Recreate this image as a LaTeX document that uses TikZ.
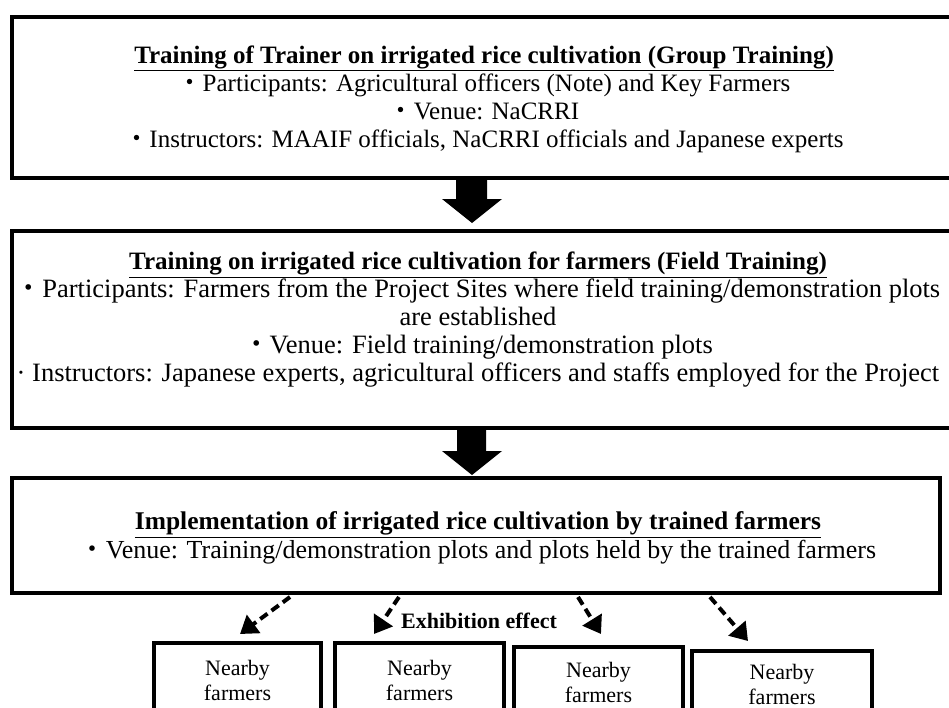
\documentclass[tikz,border=0pt]{standalone}
\usepackage{fontspec}
\setmainfont{Liberation Serif}
\newfontfamily\cjk{Noto Sans CJK JP}
\usetikzlibrary{arrows.meta}
\begin{document}
\begin{tikzpicture}[x=1pt,y=-1pt,
  bigbox/.style={draw=black,line width=4pt},
  smallbox/.style={draw=black,line width=4pt},
  bigtext/.style={align=center,inner sep=0pt,font=\fontsize{25}{28}\selectfont},
  bigtextb/.style={align=center,inner sep=0pt,font=\fontsize{26.5}{28}\selectfont},
  smalltext/.style={align=center,inner sep=0pt,font=\fontsize{22}{25}\selectfont},
  blockarrow/.style={fill=black},
  dasharrow/.style={line width=4pt,dash pattern=on 9pt off 5pt,-{Triangle[length=17pt,width=22pt]}}
]
\clip (0,0) rectangle (949,707);
\fill[white] (0,0) rectangle (949,707);
% boxes
\draw[bigbox] (12,17) rectangle (965,178);
\coordinate (b1s) at (472,178);
\draw[bigbox] (12,231) rectangle (965,428);
\coordinate (b2n) at (472,231);
\coordinate (b2s) at (472,428);
\draw[bigbox] (12,478) rectangle (940,593);
\coordinate (b3n) at (472,478);
% texts
\node[bigtext] (t1) at (484,99) {\underline{\textbf{Training of Trainer on irrigated rice cultivation (Group Training)}}\\
{\cjk ・}Participants: Agricultural officers (Note) and Key Farmers\\
{\cjk ・}Venue: NaCRRI\\
{\cjk ・}Instructors: MAAIF officials, NaCRRI officials and Japanese experts};
\node[bigtextb] (t2) at (478,320) {{\fontsize{25}{28}\selectfont\underline{\textbf{Training on irrigated rice cultivation for farmers (Field Training)}}}\\
{\cjk ・}Participants: Farmers from the Project Sites where field training/demonstration plots\\
are established\\
{\cjk ・}Venue: Field training/demonstration plots\\
· Instructors: Japanese experts, agricultural officers and staffs employed for the Project};
\node[bigtext,font=\fontsize{26}{29}\selectfont] (t3) at (478,538) {{\fontsize{25.5}{29}\selectfont\underline{\textbf{Implementation of irrigated rice cultivation by trained farmers}}}\\
{\cjk ・}Venue: Training/demonstration plots and plots held by the trained farmers};
% block arrows
\fill[blockarrow] (b1s) ++(-16,0) -- ++(31,0) -- ++(0,21) -- ++(15,0) -- (472,223) -- (442,199) -- (456,199) -- cycle;
\fill[blockarrow] (b2s) ++(-15,0) -- ++(29,0) -- ++(0,23) -- ++(16,0) -- (472,475) -- (442,451) -- (457,451) -- cycle;
% small boxes
\draw[smallbox] (154,643) rectangle (321,760);
\draw[smallbox] (335,643) rectangle (504,760);
\draw[smallbox] (514,647) rectangle (683,760);
\draw[smallbox] (692,651) rectangle (872,760);
\node[smalltext] (n1) at (237.5,680) {Nearby\\farmers};
\node[smalltext] (n2) at (419.5,680) {Nearby\\farmers};
\node[smalltext] (n3) at (598.5,682) {Nearby\\farmers};
\node[smalltext] (n4) at (782,684) {Nearby\\farmers};
\node[inner sep=0pt,font=\fontsize{22}{26}\selectfont\bfseries] (ex) at (479,621) {Exhibition effect};
% dashed arrows
\coordinate (a1) at (290,597); \coordinate (a1t) at (240,634);
\coordinate (a2) at (399,597); \coordinate (a2t) at (374,634);
\coordinate (a3) at (578,597); \coordinate (a3t) at (601,634);
\coordinate (a4) at (710,597); \coordinate (a4t) at (748,641);
\draw[dasharrow] (a1) -- (a1t);
\draw[dasharrow] (a2) -- (a2t);
\draw[dasharrow] (a3) -- (a3t);
\draw[dasharrow] (a4) -- (a4t);
\end{tikzpicture}
\end{document}
